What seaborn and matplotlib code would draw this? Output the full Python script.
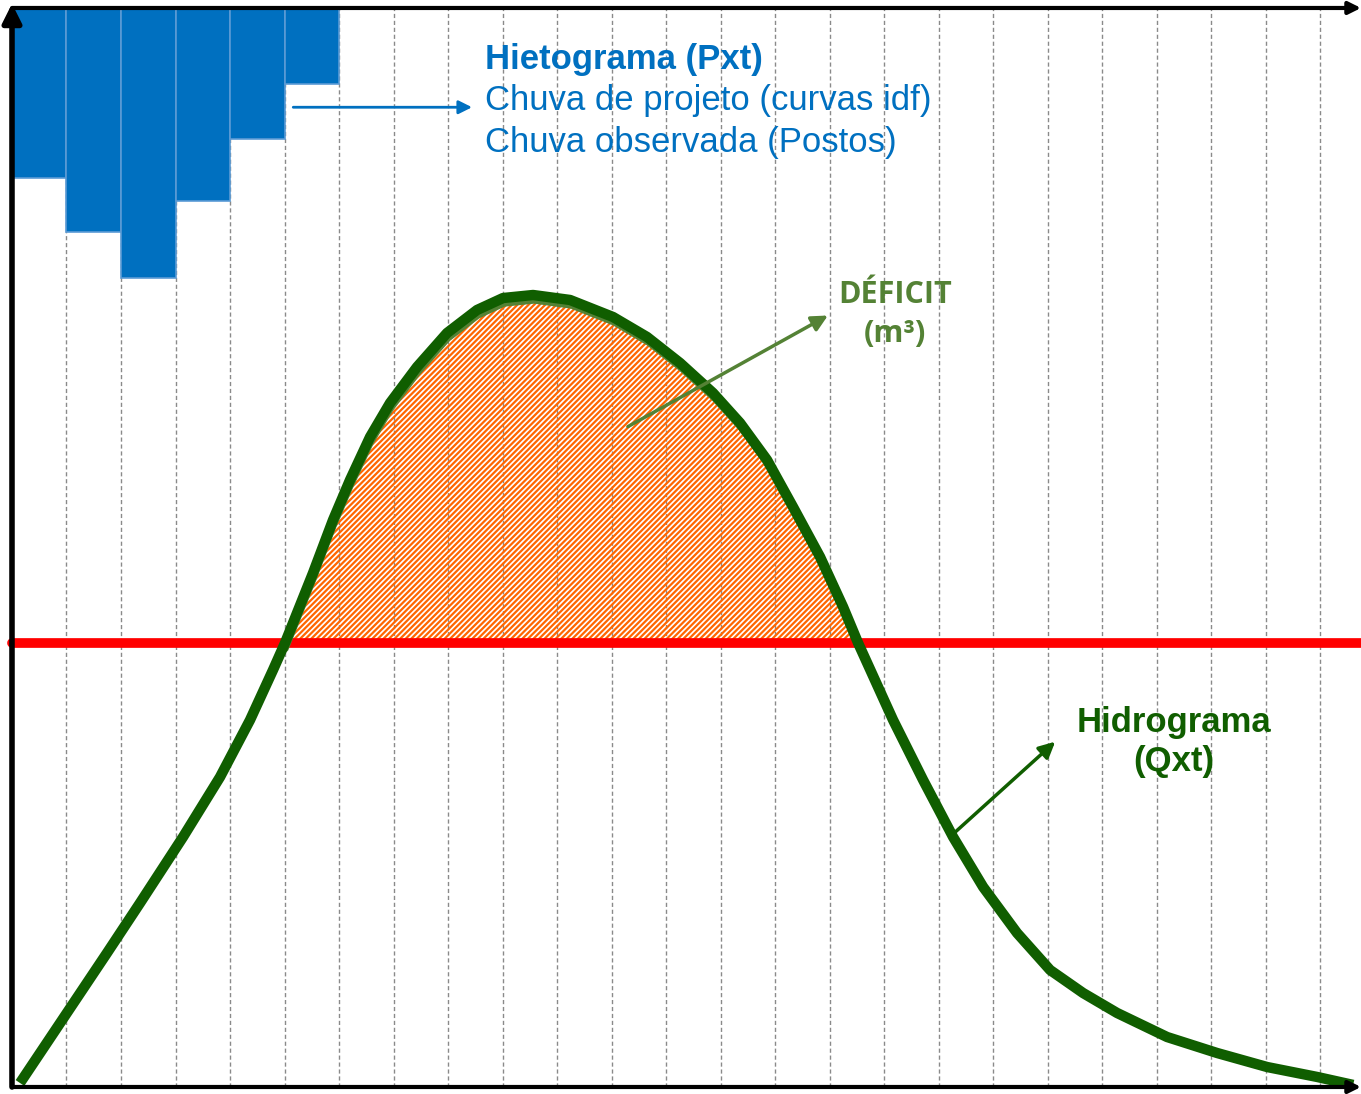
"""Hietograma + hidrograma diagram with deficit area above a threshold flow."""

import matplotlib.pyplot as plt
import matplotlib.transforms as mtransforms
import numpy as np
import pandas as pd
import seaborn as sns

# Hietograma (Pxt): rain depth per interval, hanging from the top
rain_interval = [0.5, 1.5, 2.5, 3.5, 4.5, 5.5]
rain_depth = [15.8, 20.8, 25.0, 17.9, 12.1, 7.0]

# Hidrograma (Qxt)
time_values = [0.147, 1.743, 2.349, 3.138, 3.817, 4.367, 4.789, 5.009, 5.523, 5.890,
               6.202, 6.569, 6.936, 7.431, 7.982, 8.532, 9.009, 9.560, 10.239, 11.028,
               11.651, 12.257, 12.862, 13.358, 13.853, 14.330, 14.826, 15.248, 15.523,
               16.165, 16.716, 17.266, 17.817, 18.440, 19.046, 19.651, 20.275, 21.193,
               22.110, 23.028, 23.945, 24.606]
flow_values = [0.37, 12.42, 17.05, 23.17, 28.73, 34.01, 38.65, 41.15, 47.64, 52.55,
               56.26, 60.24, 63.39, 66.73, 69.88, 72.01, 73.12, 73.40, 72.94, 71.36,
               69.51, 67.10, 64.32, 61.54, 58.11, 53.75, 49.12, 44.49, 41.15,
               34.01, 28.45, 23.17, 18.54, 14.27, 10.84, 8.71, 6.86, 4.63,
               3.15, 1.85, 0.93, 0.19]

threshold_flow = 41.15
grid_positions = list(range(1, 25))

BLUE = "#0070C0"
DARK_GREEN = "#105E00"
OLIVE = "#548235"
ORANGE = "#FF6600"

sns.set_theme(style="white")
plt.rcParams["font.family"] = ["Liberation Sans", "DejaVu Sans"]
plt.rcParams["hatch.linewidth"] = 1.6

fig = plt.figure(figsize=(13.61, 10.94), dpi=100)
ax = fig.add_axes([0, 0, 1, 1])
ax.set_xlim(-0.22, 24.75)
ax.set_ylim(-0.65, 100.74)
ax.axis("off")

# dashed vertical grid
ax.vlines(grid_positions, 0, 100, colors="#8a8a8a", linestyles=(0, (3, 2)), linewidth=1, zorder=1)

# hyetograph bars from the top
ax.bar(rain_interval, rain_depth, width=1.0, bottom=[100 - d for d in rain_depth],
       color=BLUE, edgecolor="#5B9BD5", linewidth=1.2, zorder=2)

frame = pd.DataFrame({"t": time_values, "q": flow_values})
q = np.array(flow_values)
t = np.array(time_values)

# deficit area (hatched)
mask = q >= threshold_flow - 1e-9
ax.fill_between(t, q, threshold_flow, where=mask, interpolate=True,
                facecolor="none", edgecolor=ORANGE, hatch="//////", linewidth=0, zorder=3)
# lighter inner border of the deficit, shifted just under the hydrograph
shifted = mtransforms.offset_copy(ax.transData, fig=fig, x=0.8, y=-4.5, units="points")
ax.plot(t[mask], q[mask], color=OLIVE, linewidth=3.5, zorder=7, solid_joinstyle="round",
        transform=shifted)

# threshold line
ax.axhline(threshold_flow, xmin=0.0088, xmax=1, color="#FF0000", linewidth=7, zorder=5)

# hydrograph
sns.lineplot(data=frame, x="t", y="q", ax=ax, color=DARK_GREEN, linewidth=7.5,
             sort=False, zorder=8, solid_capstyle="butt", solid_joinstyle="round")
ax.set_xlabel("")
ax.set_ylabel("")

# axes with arrows
axis_arrow = dict(arrowstyle="-|>", color="black", lw=4, mutation_scale=28, shrinkA=0, shrinkB=0)
ax.annotate("", xy=(0, 100.4), xytext=(0, 0), arrowprops=axis_arrow, zorder=9)
thin_arrow = dict(arrowstyle="-|>", color="black", lw=3, mutation_scale=18, shrinkA=0, shrinkB=0)
ax.annotate("", xy=(24.75, 100.0), xytext=(0, 100.0), arrowprops=thin_arrow, zorder=9)
ax.annotate("", xy=(24.75, 0.0), xytext=(0, 0.0), arrowprops=thin_arrow, zorder=9)

# labels
ax.text(8.68, 94.35, "Hietograma (Pxt)", color=BLUE, fontsize=25, fontweight="bold",
        va="baseline", zorder=9)
ax.text(8.68, 90.55, "Chuva de projeto (curvas idf)", color=BLUE, fontsize=25, va="baseline", zorder=9)
ax.text(8.68, 86.65, "Chuva observada (Postos)", color=BLUE, fontsize=25, va="baseline", zorder=9)
ax.annotate("", xy=(8.44, 90.8), xytext=(5.16, 90.8),
            arrowprops=dict(arrowstyle="-|>", color=BLUE, lw=2, mutation_scale=20, shrinkA=0, shrinkB=0))

deficit_font = dict(color=OLIVE, fontsize=22, fontweight="bold", ha="center", va="baseline",
                    family=["Open Sans", "DejaVu Sans"], zorder=9)
ax.text(16.2, 72.66, "DÉFICIT", **deficit_font)
ax.text(16.2, 69.05, "(m³)", **deficit_font)
ax.annotate("", xy=(14.97, 71.5), xytext=(11.30, 61.2),
            arrowprops=dict(arrowstyle="-|>", color=OLIVE, lw=2.5, mutation_scale=24, shrinkA=0, shrinkB=0),
            zorder=9)

ax.text(21.32, 32.9, "Hidrograma", color=DARK_GREEN, fontsize=25, fontweight="bold", ha="center",
        va="baseline", zorder=9)
ax.text(21.32, 29.3, "(Qxt)", color=DARK_GREEN, fontsize=25, fontweight="bold", ha="center",
        va="baseline", zorder=9)
ax.annotate("", xy=(19.14, 32.0), xytext=(17.30, 23.6),
            arrowprops=dict(arrowstyle="-|>", color=DARK_GREEN, lw=2.5, mutation_scale=24, shrinkA=0, shrinkB=0),
            zorder=9)

fig.savefig("out.png", dpi=100)
plt.close(fig)
